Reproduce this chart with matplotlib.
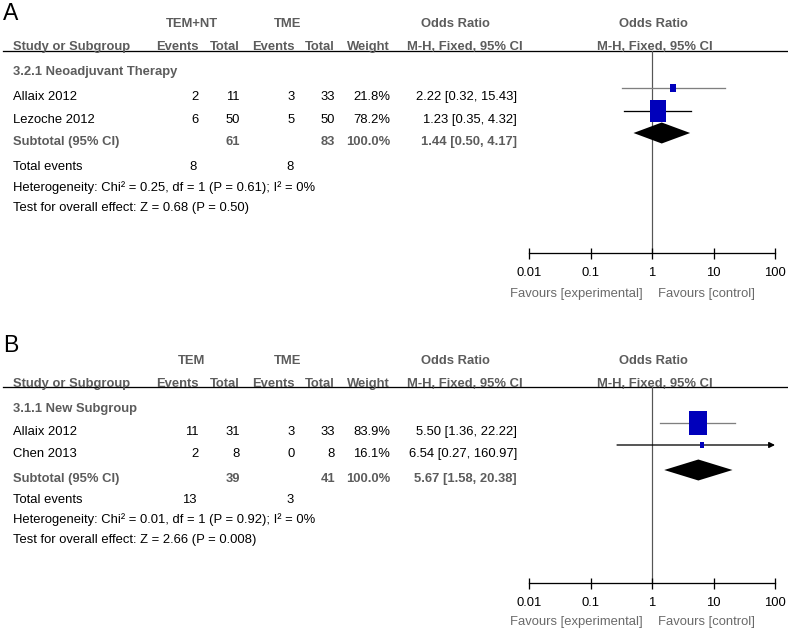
import matplotlib
matplotlib.use("Agg")
import matplotlib.pyplot as plt
from matplotlib.ticker import NullLocator

plt.rcParams['font.family'] = ['Liberation Sans', 'DejaVu Sans']

W, H = 788, 637
DPI = 72

# ---- data, panel A ----
a_arms = ["TEM+NT", "TME"]
a_subgroup = "3.2.1 Neoadjuvant Therapy"
a_studies = ["Allaix 2012", "Lezoche 2012"]
a_ev_exp = [2, 6]
a_tot_exp = [11, 50]
a_ev_ctl = [3, 5]
a_tot_ctl = [33, 50]
a_weight = [21.8, 78.2]
a_or = [2.22, 1.23]
a_lo = [0.32, 0.35]
a_hi = [15.43, 4.32]
a_sub = [1.44, 0.50, 4.17]
a_sub_tot = [61, 83]
a_events = [8, 8]
a_het = ["0.25", 1, "0.61", 0]
a_test = ["0.68", "0.50"]

# ---- data, panel B ----
b_arms = ["TEM", "TME"]
b_subgroup = "3.1.1 New Subgroup"
b_studies = ["Allaix 2012", "Chen 2013"]
b_ev_exp = [11, 2]
b_tot_exp = [31, 8]
b_ev_ctl = [3, 0]
b_tot_ctl = [33, 8]
b_weight = [83.9, 16.1]
b_or = [5.50, 6.54]
b_lo = [1.36, 0.27]
b_hi = [22.22, 160.97]
b_sub = [5.67, 1.58, 20.38]
b_sub_tot = [39, 41]
b_events = [13, 3]
b_het = ["0.01", 1, "0.92", 0]
b_test = ["2.66", "0.008"]

ticks = [0.01, 0.1, 1, 10, 100]
tick_labels = ["0.01", "0.1", "1", "10", "100"]

GRAY = '#5c5c5c'
BLUE = '#0000bb'
FS = 13

fig = plt.figure(figsize=(W / DPI, H / DPI), dpi=DPI)
base = fig.add_axes([0, 0, 1, 1])
base.set_xlim(0, W)
base.set_ylim(H, 0)
base.axis('off')


def txt(x, y, s, ha='left', bold=False, color='black', size=FS):
    # y is the visual middle of the capitals; place by baseline
    base.text(x, y + 4.7, s, ha=ha, va='baseline', fontsize=size,
              fontweight='bold' if bold else 'normal', color=color)


def panel(letter, y_letter, arms, subgroup, studies, ev_e, tot_e, ev_c, tot_c,
          weight, orr, lo, hi, sub, sub_tot, events, het, test, rows, line_colors):
    (y_h1, y_h2, y_line, y_head, y_s1, y_s2, y_sub, y_tot, y_het, y_test,
     y_axis, y_fav) = rows
    y_study = [y_s1, y_s2]

    base.text(3, y_letter, letter, fontsize=23, va='center', ha='left')

    # header
    txt(192, y_h1, arms[0], ha='center', bold=True, color=GRAY)
    txt(288, y_h1, arms[1], ha='center', bold=True, color=GRAY)
    txt(455, y_h1, "Odds Ratio", ha='center', bold=True, color=GRAY)
    txt(653, y_h1, "Odds Ratio", ha='center', bold=True, color=GRAY)
    txt(13, y_h2, "Study or Subgroup", bold=True, color=GRAY)
    txt(199, y_h2, "Events", ha='right', bold=True, color=GRAY)
    txt(240, y_h2, "Total", ha='right', bold=True, color=GRAY)
    txt(295, y_h2, "Events", ha='right', bold=True, color=GRAY)
    txt(335, y_h2, "Total", ha='right', bold=True, color=GRAY)
    txt(390, y_h2, "Weight", ha='right', bold=True, color=GRAY)
    txt(465, y_h2, "M-H, Fixed, 95% CI", ha='center', bold=True, color=GRAY)
    txt(655, y_h2, "M-H, Fixed, 95% CI", ha='center', bold=True, color=GRAY)
    base.plot([3, W], [y_line, y_line], color='black', lw=1.3)

    txt(13, y_head, subgroup, bold=True, color=GRAY)
    for i, name in enumerate(studies):
        y = y_study[i]
        txt(13, y, name)
        txt(199, y, str(ev_e[i]), ha='right')
        txt(240, y, str(tot_e[i]), ha='right')
        txt(295, y, str(ev_c[i]), ha='right')
        txt(335, y, str(tot_c[i]), ha='right')
        txt(390, y, f"{weight[i]:.1f}%", ha='right')
        txt(517, y, f"{orr[i]:.2f} [{lo[i]:.2f}, {hi[i]:.2f}]", ha='right')

    txt(13, y_sub, "Subtotal (95% CI)", bold=True, color=GRAY)
    txt(240, y_sub, str(sub_tot[0]), ha='right', bold=True, color=GRAY)
    txt(335, y_sub, str(sub_tot[1]), ha='right', bold=True, color=GRAY)
    txt(390, y_sub, f"{sum(weight):.1f}%", ha='right', bold=True, color=GRAY)
    txt(517, y_sub, f"{sub[0]:.2f} [{sub[1]:.2f}, {sub[2]:.2f}]", ha='right',
        bold=True, color=GRAY)
    txt(13, y_tot, "Total events")
    txt(197, y_tot, str(events[0]), ha='right')
    txt(294, y_tot, str(events[1]), ha='right')
    txt(13, y_het, f"Heterogeneity: Chi\u00b2 = {het[0]}, df = {het[1]} "
                   f"(P = {het[2]}); I\u00b2 = {het[3]}%")
    txt(13, y_test, f"Test for overall effect: Z = {test[0]} (P = {test[1]})")

    # forest plot on its own log axis
    x0, x1 = 529, 775
    ax = fig.add_axes([x0 / W, 1 - y_axis / H, (x1 - x0) / W, (y_axis - y_line) / H])
    ax.set_xscale('log')
    ax.set_xlim(0.01, 100)
    ax.set_ylim(y_axis, y_line)
    ax.patch.set_alpha(0)
    for s in ['top', 'left', 'right']:
        ax.spines[s].set_visible(False)
    ax.spines['bottom'].set_linewidth(1.3)
    ax.set_yticks([])
    ax.set_xticks(ticks)
    ax.set_xticklabels(tick_labels)
    ax.xaxis.set_minor_locator(NullLocator())
    ax.tick_params(axis='x', direction='inout', length=11, width=1.3, pad=8,
                   labelsize=FS)
    ax.axvline(1, color='#555555', lw=1.2, zorder=1)

    for i in range(len(studies)):
        y = y_study[i] - 7
        c = line_colors[i]
        if hi[i] > 100:
            ax.annotate('', xy=(100, y), xytext=(lo[i], y), annotation_clip=False,
                        arrowprops=dict(arrowstyle='-|>', color=c, lw=1.3,
                                        mutation_scale=12, shrinkA=0, shrinkB=0))
        else:
            ax.plot([lo[i], hi[i]], [y, y], color=c, lw=1.3, zorder=2)
        side = 16.5 * (weight[i] / 80) ** 0.75
        ax.plot([orr[i]], [y], marker=[(-0.37, -0.5), (0.37, -0.5), (0.37, 0.5), (-0.37, 0.5)],
                markersize=side * 1.35, color=BLUE, markeredgewidth=0, zorder=3,
                linestyle='none')

    yd = y_sub - 7
    ax.fill([sub[1], sub[0], sub[2], sub[0]], [yd, yd - 10.5, yd, yd + 10.5],
            color='black', lw=0, zorder=3)

    txt(643, y_fav, "Favours [experimental]", ha='right', color='#6a6a6a')
    txt(658, y_fav, "Favours [control]", ha='left', color='#6a6a6a')


panel("A", 13, a_arms, a_subgroup, a_studies, a_ev_exp, a_tot_exp, a_ev_ctl,
      a_tot_ctl, a_weight, a_or, a_lo, a_hi, a_sub, a_sub_tot, a_events, a_het,
      a_test, [22, 45, 51, 70, 95, 118, 140, 165, 186, 206, 253, 292],
      ['#7f7f7f', 'black'])
panel("B", 346, b_arms, b_subgroup, b_studies, b_ev_exp, b_tot_exp, b_ev_ctl,
      b_tot_ctl, b_weight, b_or, b_lo, b_hi, b_sub, b_sub_tot, b_events, b_het,
      b_test, [359, 382, 387, 407, 430, 452, 477, 498, 518, 538, 583, 620],
      ['#7f7f7f', 'black'])

fig.savefig("out.png", dpi=DPI)
